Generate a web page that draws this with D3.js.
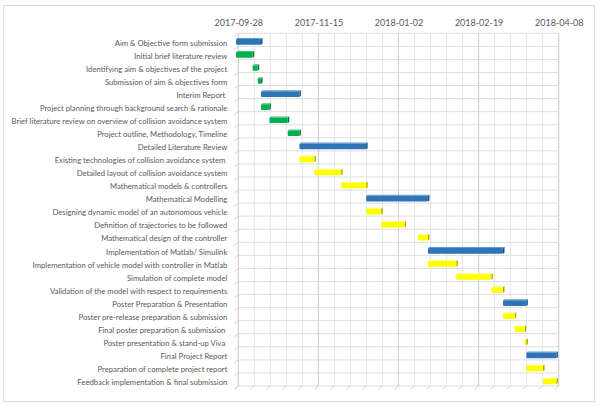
<!DOCTYPE html>
<html>
<head>
<meta charset="utf-8">
<script src="https://cdn.jsdelivr.net/npm/d3@7"></script>
<style>
  body { margin: 0; background: #fff; }
  text { font-family: Lato, "Open Sans", sans-serif; fill: #595959; }
</style>
</head>
<body>
<svg id="chart" width="600" height="405"></svg>
<script>
const TASKS = [
  'Aim & Objective form submission',
  'Initial brief literature review',
  'Identifying aim & objectives of the project',
  'Submission of aim & objectives form',
  'Interim Report ',
  'Project planning through background search & rationale',
  'Brief literature review on overview of collision avoidance system',
  'Project outline, Methodology, Timeline',
  'Detailed Literature Review',
  'Existing technologies of collision avoidance system ',
  'Detailed layout of collision avoidance system',
  'Mathematical models & controllers',
  'Mathematical Modelling',
  'Designing dynamic model of an autonomous vehicle',
  'Definition of trajectories to be followed',
  'Mathematical design of the controller',
  'Implementation of Matlab/ Simulink',
  'Implementation of vehicle model with controller in Matlab',
  'Simulation of complete model',
  'Validation of the model with respect to requirements',
  'Poster Preparation & Presentation',
  'Poster pre-release preparation & submission',
  'Final poster preparation & submission ',
  'Poster presentation & stand-up Viva ',
  'Final Project Report',
  'Preparation of complete project report',
  'Feedback implementation & final submission'
];
const STARTS = [
  '2017-09-28', '2017-09-28', '2017-10-08', '2017-10-11', '2017-10-13',
  '2017-10-13', '2017-10-18', '2017-10-29', '2017-11-05', '2017-11-05',
  '2017-11-14', '2017-11-30', '2017-12-15', '2017-12-15', '2017-12-24',
  '2018-01-15', '2018-01-21', '2018-01-21', '2018-02-07', '2018-02-28',
  '2018-03-07', '2018-03-07', '2018-03-14', '2018-03-20', '2018-03-21',
  '2018-03-21', '2018-03-31'
];
const DAYS = [15, 10, 3, 2, 23, 5, 11, 7, 40, 9, 16, 15, 37, 9, 14, 6, 45, 17, 21, 7, 14, 7, 6, 1, 18, 10, 8];
// s = summary (blue), g = first phase (green), t = task (yellow)
const KINDS = ['s','g','g','g','s','g','g','g','s','t','t','t','s','t','t','t','s','t','t','t','s','t','t','t','s','t','t'];
const TICKS = ['2017-09-28', '2017-11-15', '2018-01-02', '2018-02-19', '2018-04-08'];
const MINOR_DAYS = 9.6;

const L = 238.3, R = 558.7, T = 33.3, B = 386;
const DX = -2.3, DY = 2; // 3D offset of bars in front of the back wall
const COLORS = {
  s: {front: '#2E75B6', side: '#1F4E79', top: '#5B9BD5'},
  g: {front: '#00B050', side: '#007A3A', top: '#40C47C'},
  t: {front: '#FFFF00', side: '#A8A800', top: '#FFFF80'}
};

const parse = d3.utcParse('%Y-%m-%d');
const DAY = 864e5;
const svg = d3.select('#chart');

svg.append('rect')
  .attr('x', 3.5).attr('y', 5.5).attr('width', 591).attr('height', 396)
  .attr('fill', '#fff').attr('stroke', '#d9d9d9');

const x = d3.scaleUtc()
  .domain([parse(TICKS[0]), parse(TICKS[TICKS.length - 1])])
  .range([L, R]);
const y = d3.scaleBand().domain(d3.range(TASKS.length)).range([T, B]);

// minor vertical gridlines
const span = (x.domain()[1] - x.domain()[0]) / DAY;
const minor = d3.range(0, span + 0.01, MINOR_DAYS).map(d => new Date(+x.domain()[0] + d * DAY));
const grid = svg.append('g');
grid.selectAll('.minor').data(minor).enter().append('line')
  .attr('x1', d => x(d)).attr('x2', d => x(d))
  .attr('y1', T).attr('y2', B)
  .attr('stroke', '#e6e6e6');
// horizontal gridlines
grid.selectAll('.h').data(d3.range(TASKS.length + 1)).enter().append('line')
  .attr('x1', L).attr('x2', R)
  .attr('y1', i => T + i * y.step()).attr('y2', i => T + i * y.step())
  .attr('stroke', '#dedede');
// major vertical gridlines
grid.selectAll('.major').data(TICKS.map(parse)).enter().append('line')
  .attr('x1', d => x(d)).attr('x2', d => x(d))
  .attr('y1', T).attr('y2', B)
  .attr('stroke', '#d0d0d0');
// floor edge ticks (3D)
grid.selectAll('.lt').data(d3.range(TASKS.length + 1)).enter().append('line')
  .attr('x1', L - 3.8).attr('x2', L)
  .attr('y1', i => T + i * y.step() + 3).attr('y2', i => T + i * y.step())
  .attr('stroke', '#d0d0d0');
grid.selectAll('.bt').data(minor).enter().append('line')
  .attr('x1', d => x(d) - 3.8).attr('x2', d => x(d))
  .attr('y1', B + 3).attr('y2', B)
  .attr('stroke', '#d0d0d0');

// top date axis
const dateAxis = svg.append('g')
  .attr('transform', `translate(0,26)`)
  .call(d3.axisTop(x).tickValues(TICKS.map(parse)).tickFormat(d3.utcFormat('%Y-%m-%d')).tickSize(0).tickPadding(0));
dateAxis.select('.domain').remove();
dateAxis.selectAll('text').attr('font-size', 9).style('font-family', 'Lato, sans-serif').attr('fill', '#595959');

// task labels
const taskAxis = svg.append('g')
  .attr('transform', `translate(${L},3.2)`)
  .call(d3.axisLeft(y).tickFormat(i => TASKS[i]).tickSize(0).tickPadding(11));
taskAxis.select('.domain').remove();
taskAxis.selectAll('text').attr('font-size', 7.7).style('font-family', 'Lato, sans-serif')
  .style('white-space', 'pre').attr('fill', '#595959');

// bars
const bh = 5.6, dep = 1.5;
const bars = svg.append('g').selectAll('g').data(TASKS.map((t, i) => i)).enter().append('g');
const geo = i => {
  const s = parse(STARTS[i]);
  const e = new Date(+s + DAYS[i] * DAY);
  const x0 = x(s) + DX, x1 = x(e) + DX;
  const y0 = y(i) + y.bandwidth() / 2 + DY - bh / 2;
  return {x0, x1, y0};
};
bars.append('polygon')
  .attr('points', i => {
    const g = geo(i);
    return [[g.x0, g.y0], [g.x0 + dep, g.y0 - 1], [g.x1 + dep, g.y0 - 1], [g.x1, g.y0]].join(' ');
  })
  .attr('fill', i => COLORS[KINDS[i]].top);
bars.append('polygon')
  .attr('points', i => {
    const g = geo(i);
    return [[g.x1, g.y0], [g.x1 + dep, g.y0 - 1], [g.x1 + dep, g.y0 + bh - 1], [g.x1, g.y0 + bh]].join(' ');
  })
  .attr('fill', i => COLORS[KINDS[i]].side);
bars.append('rect')
  .attr('x', i => geo(i).x0).attr('y', i => geo(i).y0)
  .attr('width', i => geo(i).x1 - geo(i).x0).attr('height', bh)
  .attr('rx', 1)
  .attr('fill', i => COLORS[KINDS[i]].front);
</script>
</body>
</html>
